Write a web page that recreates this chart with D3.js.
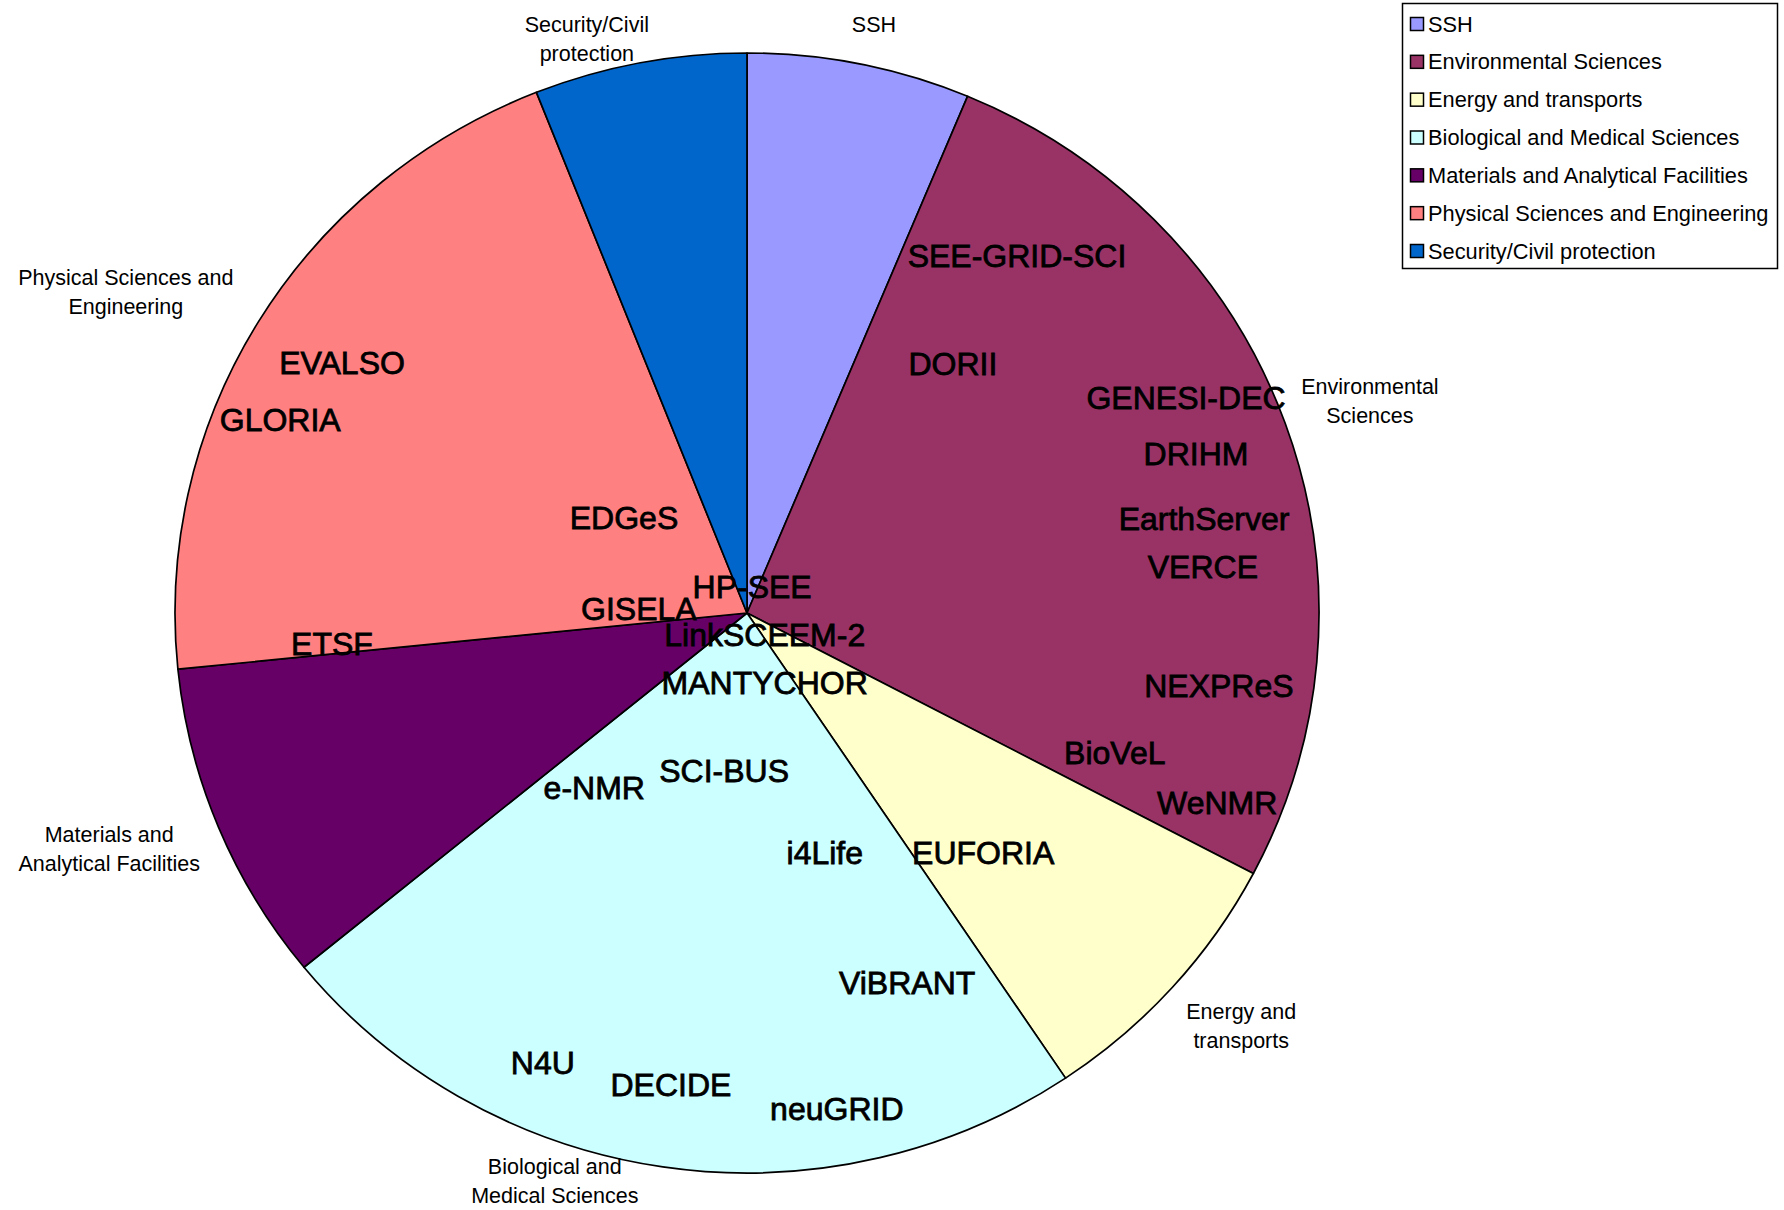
<!DOCTYPE html>
<html>
<head>
<meta charset="utf-8">
<script src="https://cdn.jsdelivr.net/npm/d3@7"></script>
<style>
  html, body { margin: 0; padding: 0; background: #fff; }
  svg { display: block; }
  text { font-family: "Liberation Sans", Arial, sans-serif; fill: #000; }
</style>
</head>
<body>
<svg id="chart" width="1784" height="1210"></svg>
<script>
// ---- data ----
const categories = ["SSH", "Environmental Sciences", "Energy and transports",
  "Biological and Medical Sciences", "Materials and Analytical Facilities",
  "Physical Sciences and Engineering", "Security/Civil protection"];
const shares = [6.3, 26.4, 7.9, 23.5, 9.3, 20.6, 6.0];
const colors = ["#9999FF", "#993366", "#FFFFCC", "#CCFFFF", "#660066", "#FF8080", "#0066CC"];
const categoryLabelLines = [["SSH"], ["Environmental", "Sciences"], ["Energy and", "transports"],
  ["Biological and", "Medical Sciences"], ["Materials and", "Analytical Facilities"],
  ["Physical Sciences and", "Engineering"], ["Security/Civil", "protection"]];
const projects = ["SEE-GRID-SCI", "DORII", "GENESI-DEC", "DRIHM", "EarthServer", "VERCE",
  "NEXPReS", "BioVeL", "WeNMR", "EUFORIA", "i4Life", "ViBRANT", "neuGRID", "DECIDE", "N4U",
  "SCI-BUS", "e-NMR", "MANTYCHOR", "LinkSCEEM-2", "HP-SEE", "GISELA", "ETSF", "EDGeS",
  "GLORIA", "EVALSO"];

// ---- layout (label anchors, in units of the pie radius from its centre) ----
const categoryLabelPos = [[0.222, -1.050], [1.089, -0.404], [0.864, 0.712], [-0.336, 0.990],
  [-1.115, 0.396], [-1.086, -0.598], [-0.280, -1.050]];
const projectPos = [[0.472, -0.6375], [0.360, -0.445], [0.7675, -0.384], [0.785, -0.284],
  [0.799, -0.168], [0.797, -0.082], [0.825, 0.130], [0.643, 0.250], [0.822, 0.339],
  [0.413, 0.429], [0.136, 0.429], [0.280, 0.661], [0.157, 0.886], [-0.133, 0.843],
  [-0.357, 0.804], [-0.040, 0.282], [-0.267, 0.3125], [0.031, 0.125], [0.031, 0.039],
  [0.009, -0.046], [-0.189, -0.007], [-0.7255, 0.055], [-0.215, -0.170], [-0.816, -0.345],
  [-0.708, -0.446]];

const svg = d3.select("#chart");
const cx = 747, cy = 613, ry = 560, rx = 572;
const sx = d3.scaleLinear().domain([-1, 1]).range([cx - rx, cx + rx]);
const sy = d3.scaleLinear().domain([-1, 1]).range([cy - ry, cy + ry]);

const data = categories.map((c, i) => ({ cat: c, value: shares[i], color: colors[i] }));
const pie = d3.pie().sort(null).value(d => d.value);
const arc = d3.arc().innerRadius(0).outerRadius(ry);

const g = svg.append("g").attr("transform", `translate(${cx},${cy}) scale(${rx / ry},1)`);
g.selectAll("path").data(pie(data)).join("path")
  .attr("d", arc)
  .attr("fill", d => d.data.color)
  .attr("stroke", "#000")
  .attr("stroke-width", 1.7)
  .attr("stroke-linejoin", "round")
  .attr("vector-effect", "non-scaling-stroke");

// category labels
const lineH = 29;
categories.forEach((c, i) => {
  const t = svg.append("text")
    .attr("text-anchor", "middle")
    .attr("font-size", 21.5)
    .attr("x", sx(categoryLabelPos[i][0]))
    .attr("y", sy(categoryLabelPos[i][1]))
    .attr("dominant-baseline", "central");
  categoryLabelLines[i].forEach((ln, k) => {
    t.append("tspan").attr("x", sx(categoryLabelPos[i][0])).attr("dy", k === 0 ? 0 : lineH).text(ln);
  });
});

// project labels
svg.append("g").selectAll("text").data(projects).join("text")
  .attr("x", (d, i) => sx(projectPos[i][0]))
  .attr("y", (d, i) => sy(projectPos[i][1]))
  .attr("text-anchor", "middle")
  .attr("dominant-baseline", "central")
  .attr("font-size", 32)
  .attr("stroke", "#000")
  .attr("stroke-width", 0.8)
  .text(d => d);

// legend
const leg = svg.append("g");
leg.append("rect").attr("x", 1402.5).attr("y", 3.5).attr("width", 375).attr("height", 265)
  .attr("fill", "#fff").attr("stroke", "#000").attr("stroke-width", 1.5);
const ly = d3.scalePoint().domain(categories).range([24, 251]);
const items = leg.selectAll("g.item").data(categories).join("g").attr("class", "item")
  .attr("transform", d => `translate(0,${ly(d)})`);
items.append("rect").attr("x", 1410.5).attr("y", -6.5).attr("width", 13).attr("height", 13)
  .attr("fill", (d, i) => colors[i]).attr("stroke", "#000").attr("stroke-width", 1.5);
items.append("text").attr("x", 1428).attr("y", 0).attr("dominant-baseline", "central")
  .attr("font-size", 21.8).text(d => d);
</script>
</body>
</html>
